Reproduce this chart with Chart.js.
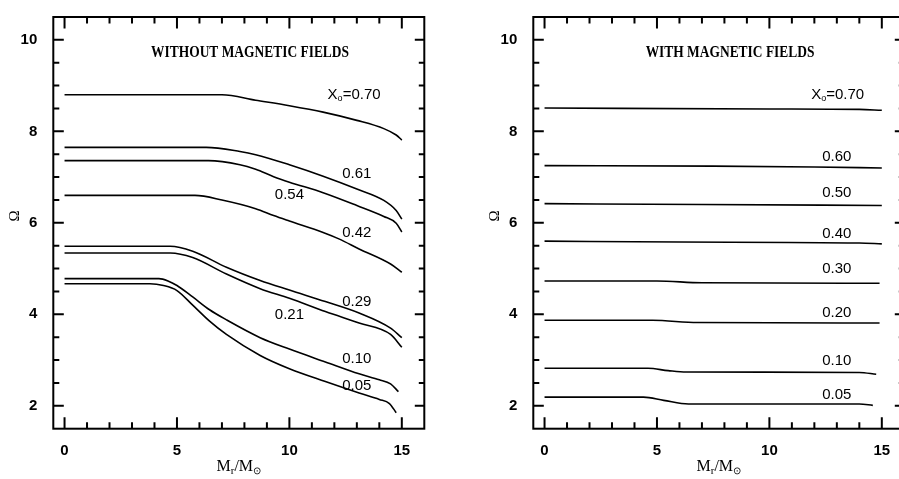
<!DOCTYPE html>
<html>
<head>
<meta charset="utf-8">
<script src="https://cdn.jsdelivr.net/npm/chart.js@4.4.0/dist/chart.umd.min.js"></script>
<style>
html, body { margin: 0; padding: 0; background: #fff; overflow: hidden; width: 899px; height: 479px; }
.panel { position: absolute; top: 0; width: 450px; height: 479px; }
#left { left: 0; }
#right { left: 480px; }
</style>
</head>
<body>
<div class="panel" id="left"><canvas id="chart-left" width="450" height="479"></canvas></div>
<div class="panel" id="right"><canvas id="chart-right" width="450" height="479"></canvas></div>
<script>
// Omega vs Mr/Msun
const massTicks = [0, 5, 10, 15];
const omegaTicks = [2, 4, 6, 8, 10];

// --- left panel: without magnetic fields ---
const nf070 = [[0, 8.80], [7.0, 8.80], [8.5, 8.68], [10, 8.56], [11.5, 8.42], [13, 8.24], [14.2, 8.06], [14.75, 7.92], [15, 7.81]];
const nf061 = [[0, 7.65], [6.3, 7.65], [7.8, 7.56], [8.5, 7.49], [10, 7.27], [11.5, 7.02], [13, 6.74], [14.2, 6.49], [14.75, 6.27], [15, 6.08]];
const nf054 = [[0, 7.36], [6.4, 7.36], [7.8, 7.27], [8.5, 7.17], [9.3, 7.01], [10, 6.89], [11.5, 6.66], [13, 6.38], [14.2, 6.14], [14.75, 5.99], [15, 5.80]];
const nf042 = [[0, 6.60], [5.8, 6.60], [7, 6.50], [8.5, 6.31], [9.3, 6.16], [10, 6.04], [11.5, 5.79], [12.2, 5.65], [13.1, 5.43], [14.5, 5.10], [15, 4.92]];
const nf029 = [[0, 5.49], [4.7, 5.49], [5.7, 5.38], [7.2, 5.03], [8.7, 4.74], [10, 4.53], [11.6, 4.28], [13.1, 4.03], [14.5, 3.70], [15, 3.49]];
const nf021 = [[0, 5.34], [4.7, 5.34], [5.7, 5.24], [7.2, 4.88], [8.7, 4.56], [10, 4.35], [11.6, 4.06], [13.1, 3.81], [14.5, 3.56], [15, 3.28]];
const nf010 = [[0, 4.78], [4.2, 4.78], [4.6, 4.73], [5.0, 4.63], [5.7, 4.38], [6.45, 4.10], [7.2, 3.88], [8.7, 3.49], [10, 3.24], [11.6, 2.96], [13.1, 2.70], [14.0, 2.57], [14.5, 2.48], [14.85, 2.31]];
const nf005 = [[0, 4.67], [3.8, 4.67], [4.4, 4.63], [5.0, 4.52], [5.7, 4.20], [6.45, 3.85], [7.2, 3.56], [8.7, 3.10], [10, 2.81], [11.6, 2.53], [13.1, 2.28], [14.0, 2.14], [14.45, 2.05], [14.75, 1.85]];
const noFieldLabels = ['0.61', '0.54', '0.42', '0.29', '0.21', '0.10', '0.05'];
const noFieldLabelAt = [[13, 7.07], [10, 6.62], [13, 5.78], [13, 4.28], [10, 3.98], [13, 3.02], [13, 2.44]];

// --- right panel: with magnetic fields ---
const wf070 = [[0, 8.51], [10, 8.49], [14, 8.48], [15, 8.46]];
const wf060 = [[0, 7.25], [7.5, 7.24], [12, 7.22], [15, 7.20]];
const wf050 = [[0, 6.42], [7, 6.40], [15, 6.38]];
const wf040 = [[0, 5.60], [6, 5.58], [14, 5.56], [15, 5.54]];
const wf030 = [[0, 4.73], [5.0, 4.73], [7.0, 4.69], [14.9, 4.68]];
const wf020 = [[0, 3.87], [4.8, 3.87], [6.8, 3.82], [14.9, 3.81]];
const wf010 = [[0, 2.82], [4.6, 2.82], [5.5, 2.77], [6.3, 2.74], [14, 2.73], [14.75, 2.69]];
const wf005 = [[0, 2.19], [4.4, 2.19], [5.3, 2.12], [6.4, 2.04], [14, 2.04], [14.6, 2.01]];
const fieldLabels = ['0.60', '0.50', '0.40', '0.30', '0.20', '0.10', '0.05'];
const fieldLabelAt = [[13, 7.45], [13, 6.65], [13, 5.75], [13, 4.99], [13, 4.03], [13, 2.99], [13, 2.23]];

const SANS = '"Liberation Sans", Arial, sans-serif';
const SERIF = '"Liberation Serif", "Times New Roman", serif';

function curve(points) {
    return {
        data: points.map(p => ({ x: p[0], y: p[1] })),
        showLine: true,
        borderColor: '#000',
        borderWidth: 1.6,
        pointRadius: 0,
        fill: false,
        cubicInterpolationMode: 'monotone'
    };
}

// draws a run of text pieces [text, font, dy] starting at x (or centred)
function drawRuns(ctx, runs, x, y, align) {
    let w = 0;
    runs.forEach(r => { ctx.font = r[1]; w += ctx.measureText(r[0]).width; });
    let cx = align === 'center' ? x - w / 2 : x;
    ctx.textAlign = 'left';
    ctx.textBaseline = 'middle';
    runs.forEach(r => {
        ctx.font = r[1];
        ctx.fillText(r[0], cx, y + r[2]);
        cx += ctx.measureText(r[0]).width;
    });
}

// box frame with inward ticks on all four sides
const frameTicks = {
    id: 'frameTicks',
    afterDatasetsDraw(chart) {
        const { ctx, chartArea: a, scales: { x, y } } = chart;
        ctx.save();
        ctx.strokeStyle = '#000';
        ctx.lineWidth = 2;
        ctx.strokeRect(a.left, a.top, a.right - a.left, a.bottom - a.top);
        ctx.beginPath();
        for (let v = 0; v <= 15; v++) {
            const px = x.getPixelForValue(v);
            const len = v % 5 === 0 ? 11.5 : 6.5;
            ctx.moveTo(px, a.bottom); ctx.lineTo(px, a.bottom - len);
            ctx.moveTo(px, a.top); ctx.lineTo(px, a.top + len);
        }
        for (let v = 2; v <= 10; v += 0.5) {
            const py = y.getPixelForValue(v);
            const major = v % 2 === 0;
            ctx.moveTo(a.left, py); ctx.lineTo(a.left + (major ? 10.5 : 6), py);
            ctx.moveTo(a.right, py); ctx.lineTo(a.right - (major ? 9.5 : 5.5), py);
        }
        ctx.stroke();
        ctx.restore();
    }
};

// panel title, curve labels, axis titles
const panelText = {
    id: 'panelText',
    afterDraw(chart, args, opts) {
        const { ctx, chartArea: a, scales: { x, y } } = chart;
        ctx.save();
        ctx.fillStyle = '#000';

        // title (condensed bold serif caps)
        ctx.save();
        ctx.translate(x.getPixelForValue(8.25), y.getPixelForValue(9.72));
        ctx.scale(0.84, 1);
        ctx.font = 'bold 16px ' + SERIF;
        ctx.textAlign = 'center';
        ctx.textBaseline = 'middle';
        ctx.fillText(opts.title, 0, 0);
        ctx.restore();

        // X_o = 0.70 label
        drawRuns(ctx, [
            ['X', '15px ' + SANS, 0],
            ['o', '9px ' + SANS, 4],
            ['=0.70', '15px ' + SANS, 0]
        ], x.getPixelForValue(opts.leadX), y.getPixelForValue(8.80), 'left');

        ctx.font = '15px ' + SANS;
        ctx.textAlign = 'center';
        ctx.textBaseline = 'middle';
        opts.labels.forEach((t, i) => {
            ctx.fillText(t, x.getPixelForValue(opts.labelAt[i][0]), y.getPixelForValue(opts.labelAt[i][1]));
        });

        // x axis title Mr/Msun
        drawRuns(ctx, [
            ['M', '16px ' + SERIF, 0],
            ['r', '11px ' + SERIF, 4],
            ['/M', '16px ' + SERIF, 0],
            ['\u2299', '10px ' + SERIF, 4]
        ], (a.left + a.right) / 2, 467, 'center');

        // y axis title Omega
        ctx.save();
        ctx.translate(a.left - 38, (a.top + a.bottom) / 2 - 7);
        ctx.rotate(-Math.PI / 2);
        ctx.font = '15px ' + SERIF;
        ctx.textAlign = 'center';
        ctx.textBaseline = 'middle';
        ctx.fillText('\u03A9', 0, 0);
        ctx.restore();

        ctx.restore();
    }
};

function makeChart(canvasId, curves, text) {
    return new Chart(document.getElementById(canvasId), {
        type: 'scatter',
        data: { datasets: curves.map(curve) },
        options: {
            responsive: false,
            animation: false,
            layout: { padding: { top: 7.3, right: 25.7, left: 0, bottom: 0 } },
            plugins: { legend: { display: false }, tooltip: { enabled: false }, panelText: text },
            scales: {
                x: {
                    type: 'linear', min: -0.5, max: 16,
                    grid: { display: false }, border: { display: false },
                    ticks: { color: '#000', font: { family: SANS, size: 15, weight: 'bold' }, padding: 5, maxRotation: 0, autoSkip: false },
                    afterBuildTicks: s => { s.ticks = massTicks.map(v => ({ value: v })); },
                    afterFit: s => { s.height = 50.3; }
                },
                y: {
                    type: 'linear', min: 1.5, max: 10.5,
                    grid: { display: false }, border: { display: false },
                    ticks: { color: '#000', font: { family: SANS, size: 15, weight: 'bold' }, padding: 8, autoSkip: false },
                    afterBuildTicks: s => { s.ticks = omegaTicks.map(v => ({ value: v })); },
                    afterFit: s => { s.width = 53.3; }
                }
            }
        },
        plugins: [frameTicks, panelText]
    });
}

makeChart('chart-left', [nf070, nf061, nf054, nf042, nf029, nf021, nf010, nf005],
    { title: 'WITHOUT MAGNETIC FIELDS', leadX: 11.7, labels: noFieldLabels, labelAt: noFieldLabelAt });
makeChart('chart-right', [wf070, wf060, wf050, wf040, wf030, wf020, wf010, wf005],
    { title: 'WITH MAGNETIC FIELDS', leadX: 11.86, labels: fieldLabels, labelAt: fieldLabelAt });
</script>
</body>
</html>
